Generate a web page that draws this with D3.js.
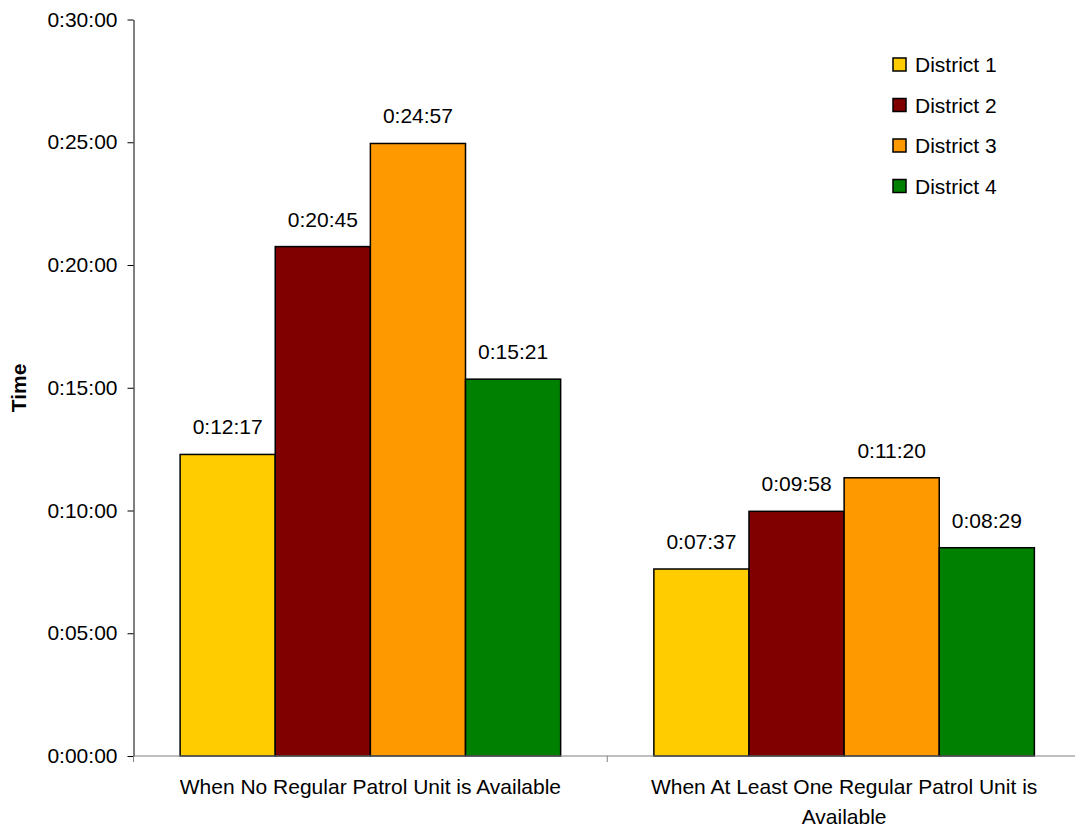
<!DOCTYPE html>
<html><head><meta charset="utf-8">
<script src="https://cdn.jsdelivr.net/npm/d3@7"></script>
<style>body{margin:0;background:#fff}svg{display:block}text{font-family:"Liberation Sans",Arial,sans-serif}</style>
</head><body><svg id="c" width="1075" height="829"></svg>
<script>
const categories = ["When No Regular Patrol Unit is Available", "When At Least One Regular Patrol Unit is Available"];
const seriesNames = ["District 1", "District 2", "District 3", "District 4"];
const seriesColors = ["#FFCC00", "#800000", "#FF9900", "#008000"];
// values in seconds
const district1 = [737, 457];   // 0:12:17, 0:07:37
const district2 = [1245, 598];  // 0:20:45, 0:09:58
const district3 = [1497, 680];  // 0:24:57, 0:11:20
const district4 = [921, 509];   // 0:15:21, 0:08:29
const yTicks = [0, 300, 600, 900, 1200, 1500, 1800];
const series = [district1, district2, district3, district4];

(function(){
const FS = 21;
const fmt = s => { const h = Math.floor(s/3600), m = Math.floor((s%3600)/60), sec = s%60;
  return h + ":" + String(m).padStart(2,"0") + ":" + String(sec).padStart(2,"0"); };

const svg = d3.select("#c");
const pL = 133.5, pR = 1081, pT = 19.5, pB = 756;
const x0 = d3.scaleBand().domain(categories).range([pL, pR]).paddingInner(0).paddingOuter(0);
const x1 = d3.scaleBand().domain(seriesNames).range([0, x0.bandwidth()]).paddingOuter(0.49).paddingInner(0);
const y = d3.scaleLinear().domain([0, 1800]).range([pB, pT]);

// bars
categories.forEach((cat, ci) => {
  const g = svg.append("g").attr("transform", `translate(${x0(cat)},0)`);
  series.forEach((vals, si) => {
    const v = vals[ci];
    g.append("rect").attr("x", x1(seriesNames[si])).attr("y", y(v))
      .attr("width", x1.bandwidth()).attr("height", y(0) - y(v))
      .attr("fill", seriesColors[si]).attr("stroke", "#000").attr("stroke-width", 1.5);
    g.append("text").attr("x", x1(seriesNames[si]) + x1.bandwidth()/2).attr("y", y(v) - 20)
      .attr("text-anchor", "middle").attr("font-size", FS).attr("fill", "#000").text(fmt(v));
  });
});

// y axis
const yAxis = svg.append("g").attr("transform", `translate(${pL},0)`)
  .call(d3.axisLeft(y).tickValues(yTicks).tickFormat(fmt).tickSize(6).tickSizeOuter(0));
yAxis.select(".domain").attr("stroke", "#000");
yAxis.selectAll(".tick line").attr("stroke", "#000");
yAxis.selectAll(".tick text").attr("font-size", FS).attr("fill", "#000").attr("x", -16)
  .style("font-family", '"Liberation Sans",Arial,sans-serif');

// x axis
const xAxis = svg.append("g").attr("transform", `translate(0,${pB})`);
xAxis.append("line").attr("x1", pL).attr("x2", pR).attr("y1", 0).attr("y2", 0).attr("stroke", "#808080").attr("stroke-width", 1.2);
[pL, x0(categories[1]), pR].forEach(px => {
  xAxis.append("line").attr("x1", px).attr("x2", px).attr("y1", 0).attr("y2", 6).attr("stroke", "#808080");
});
const catLines = [["When No Regular Patrol Unit is Available"], ["When At Least One Regular Patrol Unit is", "Available"]];
categories.forEach((cat, ci) => {
  const t = xAxis.append("text").attr("text-anchor", "middle").attr("font-size", FS).attr("fill", "#000");
  catLines[ci].forEach((ln, li) => {
    t.append("tspan").attr("x", x0(cat) + x0.bandwidth()/2).attr("y", 38 + li * 30).text(ln);
  });
});

// y title
svg.append("text").attr("transform", "translate(26,388) rotate(-90)").attr("text-anchor", "middle")
  .attr("font-size", FS).attr("font-weight", "bold").text("Time");

// legend
const lg = svg.append("g").attr("transform", "translate(893,58)");
seriesNames.forEach((n, i) => {
  const row = lg.append("g").attr("transform", `translate(0,${i*40.5})`);
  row.append("rect").attr("x", 0).attr("y", 0).attr("width", 13).attr("height", 13)
    .attr("fill", seriesColors[i]).attr("stroke", "#000").attr("stroke-width", 1.5);
  row.append("text").attr("x", 22).attr("y", 14).attr("font-size", FS).text(n);
});
})();
</script></body></html>
